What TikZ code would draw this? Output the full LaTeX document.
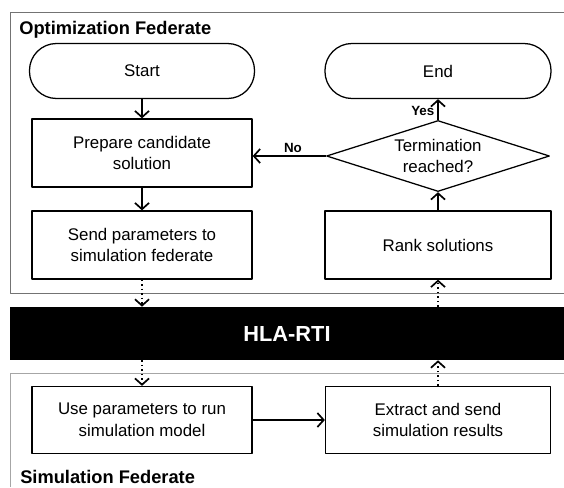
\documentclass[tikz,border=0pt]{standalone}
\usepackage{fontspec}
\setmainfont{Liberation Sans}
\usetikzlibrary{shapes.geometric,arrows.meta}
\def\pxu{0.7113pt}
\begin{document}
\begin{tikzpicture}[x=0.025cm,y=-0.025cm,line join=round,>={Straight Barb[length=4.5pt,width=10pt]}]
	\tikzset{every node/.style={font=\fontsize{12}{15.5}\selectfont,align=center},
		box/.style={draw,line width=0.9pt,minimum width=220*\pxu,minimum height=68*\pxu,inner sep=2pt},
		terminal/.style={box,rounded corners=27*\pxu,minimum width=225*\pxu,minimum height=55*\pxu},
		decision/.style={draw,diamond,shape aspect=3.14,line width=0.9pt,inner sep=0pt,minimum width=223*\pxu,minimum height=71*\pxu},
		flow/.style={->,line width=1.2pt},
		link/.style={->,line width=1.2pt,dotted},
		frame/.style={draw=black!55,line width=0.7pt},
		title/.style={font=\fontsize{13}{15}\selectfont\bfseries,anchor=base west,inner sep=0pt},
		answer/.style={font=\fontsize{9.5}{11}\selectfont\bfseries}}
	\useasboundingbox (0,0) rectangle (564,487);
	% federate frames
	\draw[frame] (564,12) -| (10,293) -- (564,293);
	\draw[frame,draw=black!35] (564,373) -| (10,487);
	\node[title] (optT) at (19,34) {Optimization Federate};
	\node[title] (simT) at (20,483) {Simulation Federate};
	% optimization federate
	\node[terminal] (start) at (142,71) {Start};
	\node[box] (prep) at (142,153) {Prepare candidate\\solution};
	\node[box] (send) at (142,245) {Send parameters to\\simulation federate};
	\node[terminal,minimum width=226*\pxu] (end) at (438,71) {End};
	\node[decision] (term) at (438,156) {Termination\\reached?};
	\node[box,minimum width=226*\pxu] (rank) at (438,245) {Rank solutions};
	% run-time infrastructure
	\node[fill=black,text=white,minimum width=554*\pxu,minimum height=53*\pxu,inner sep=0pt,
		font=\fontsize{15.5}{18}\selectfont\bfseries] (hla) at (287,333.5) {HLA-RTI};
	% simulation federate
	\node[box,minimum height=67*\pxu] (use) at (142,420) {Use parameters to run\\simulation model};
	\node[box,minimum width=225*\pxu,minimum height=67*\pxu] (extr) at (438,420) {Extract and send\\simulation results};
	% connectors
	\draw[flow] (start) -- (prep);
	\draw[flow] (prep) -- (send);
	\draw[link] (send.south) -- (send.south |- hla.north);
	\draw[link] (hla.south -| use.north) -- (use.north);
	\draw[flow] (use) -- (extr);
	\draw[link] (extr.north) -- (extr.north |- hla.south);
	\draw[link] (hla.north -| rank.south) -- (rank.south);
	\draw[flow] (rank) -- (term);
	\draw[flow] (term) -- node[answer,left,pos=0.45,inner sep=2pt] {Yes} (end);
	\draw[flow] (term.west) -- node[answer,above,inner sep=1.5pt,pos=0.45] {No} (term.west -| prep.east);
\end{tikzpicture}
\end{document}
